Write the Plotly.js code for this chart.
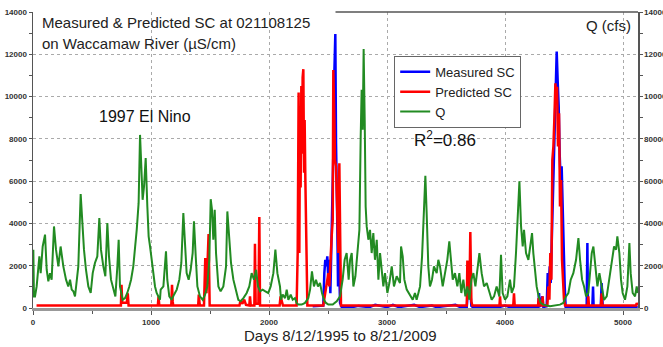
<!DOCTYPE html>
<html>
<head>
<meta charset="utf-8">
<script src="https://cdn.plot.ly/plotly-3.0.1.min.js"></script>
<style>html,body{margin:0;padding:0;background:#fff;}#chart{width:663px;height:347px;}</style>
</head>
<body>
<div id="chart"></div>
<script>
// Q (cfs), right axis
const qDay = [3,8,17,31,54,65,82,102,116,130,144,158,178,195,215,234,257,280,299,314,328,342,356,370,384,404,418,432,449,469,489,506,525,545,562,576,596,613,630,644,661,681,698,715,726,737,760,780,799,816,831,850,867,879,895,907,918,929,941,955,969,980,992,1006,1020,1034,1048,1076,
1082,1105,1127,1138,1155,1175,1195,1218,1240,1257,1274,1285,1302,1319,1336,1353,1364,1379,1393,1415,1438,1458,1477,1494,1506,1517,1528,1540,1551,1571,1590,1613,1636,1647,1661,1678,1698,1720,1740,1760,1783,1811,1833,1853,1873,1890,1907,1924,1946,1969,1994,2014,2037,2054,2071,2093,
2102,2116,2136,2150,2164,2184,2201,2220,2234,2249,2277,2305,2333,2348,2364,2381,2398,2415,2432,2449,2466,2483,2503,2540,2574,2602,2624,2641,2658,2675,2687,2701,2715,2732,2749,2766,2777,2785,2794,2802,2811,2819,2828,2842,2856,2870,2884,2898,2913,2927,2941,2955,2969,2983,3003,3020,3040,3059,3082,3110,
3119,3133,3147,3167,3184,3201,3218,3237,3251,3266,3280,3297,3314,3325,3336,3350,3364,3381,3398,3421,3435,3449,3472,3492,3511,3528,3542,3557,3576,3596,3613,3630,3647,3664,3681,3698,3715,3732,3749,3766,3783,3802,3822,3845,3867,3887,3907,3929,3952,3966,3980,4000,4020,
4042,4057,4076,4093,4105,4122,4136,4150,4161,4178,4198,4212,4229,4240,4254,4268,4285,4302,4325,4381,4466,4494,4517,4537,4557,4579,4602,4622,4636,4653,4670,4687,4706,4720,4735,4749,4763,4783,4800,4819,4839,4862,4884,4904,4924,4941,4952,4969,4983,4997,5017,5037,5054,5065,5082,5102,5116,5125];
const qCfs = [27600,5500,5500,10200,24400,16500,29100,34700,18100,12600,16500,13400,38600,27600,19700,29100,19700,13400,10200,13400,8700,7900,5500,11800,19700,53900,38600,27600,18100,10200,7100,16500,21300,24400,42500,27600,19700,15000,40200,24400,13400,8700,5500,19700,32300,10200,3900,4700,7100,10200,13400,19700,29100,37000,49600,81900,66900,51200,57500,70900,48000,33900,29100,22800,15000,10200,7100,3900,
8700,10200,26800,13400,5500,3900,6300,8700,13400,21300,44900,32300,16500,13400,18100,26000,41000,24400,10200,5500,3900,6300,10200,22800,51500,46500,32300,46500,26000,10200,7900,10200,19700,45700,32300,21300,13400,7900,3900,3200,4700,7100,10200,16500,13400,18100,10200,7900,8700,7900,7100,10200,16500,27600,16500,10200,
3900,6300,4700,8700,3900,6300,3900,4700,2400,1600,1600,2400,4700,8700,17300,10200,13400,10200,11800,7100,3900,2400,1600,1600,3200,5500,13400,22800,26000,13400,22800,26000,10200,15000,26000,37000,81100,103200,84300,122500,89000,48000,38600,32300,37000,26000,35400,22800,32300,13400,26000,16500,10200,16500,7100,11800,19700,10200,15000,11800,
29100,24400,13400,8700,7100,5500,3900,7100,3900,7100,10200,24400,51200,62500,44900,19700,10200,13400,19700,16500,22800,19700,10200,16500,22800,31500,22800,13400,16500,10200,16500,7100,13400,5500,10200,3900,13400,16500,10200,18100,26000,16500,10200,11800,7100,3900,5500,10200,5500,25200,7100,3900,5500,
13400,7100,10200,26000,41700,59900,38600,29100,37000,26000,22800,27600,35400,26000,16500,10200,5500,2400,1600,800,1600,2400,5500,7100,13400,16500,22800,33100,22800,13400,10200,5500,7100,16500,26000,29100,19700,10200,16500,10200,3900,5500,13400,22800,29100,27600,33900,26000,13400,7100,3900,10200,30700,16500,7100,5500,10200,7100];

// Measured SC (uS/cm), left axis
const measDay = [2370,2446,
2460,2469,2477,2486,2494,2503,2511,2520,2528,2537,2545,2551,2557,2562,2568,2574,2579,2585,2590,2596,2602,2616,
2700,2760,2850,2900,3000,3050,3100,3230,3280,3380,3420,3580,3620,
3676,3681,3692,3703,3715,3725,
3800,3950,4000,4040,4100,4200,
4280,4283,4288,4297,4316,4325,
4353,4362,4370,4379,4387,4396,4404,4413,4421,4429,4438,4446,4455,4463,4472,4480,4489,4497,4506,4514,
4692,4698,4703,4740,4746,4751,4811,4819,4828,4950,5125];
const measSC = [80,80,
110,1650,2280,1970,2440,1340,2280,700,2600,4800,7300,10470,12960,12960,7800,6220,3860,1020,2910,1650,240,50,
40,100,40,150,40,150,40,150,40,120,40,150,40,
50,400,1340,1020,100,50,
50,40,120,40,40,60,
50,50,710,50,550,50,
80,1650,1020,1970,1180,2910,5120,7170,8900,10470,12130,10790,9530,7320,5910,6700,4490,2600,1020,50,
50,3070,50,50,1020,50,50,1180,50,60,50];

// Predicted SC (uS/cm), left axis
const predDay = [30,745,750,756,795,803,810,1058,1064,1070,1172,1178,1184,1188,1400,1405,1412,1418,
1449,1460,1470,1488,1497,1750,1758,1775,1790,1805,1833,1839,1845,1876,1881,1887,1910,1918,1924,
2090,2098,2108,2118,
2234,2243,2251,2257,2263,2268,2274,2280,2285,2291,2297,2302,2308,2314,2319,2325,
2460,2475,2489,2503,2511,2523,2531,2540,2545,2554,2559,2568,2574,2582,2588,2596,2602,2610,
3676,3681,3689,3698,3706,3715,3723,3953,3958,3963,4070,4076,4082,4280,4285,4290,4314,4319,4324,
4359,4367,4376,4384,4393,4401,4410,4418,4427,4432,4441,4449,4458,4466,4475,4483,4492,4500,4509,
4701,4706,4711,4814,4819,4824,5111,5116,5121,5125];
const predSC = [120,120,1100,250,250,700,120,120,550,120,120,1100,300,120,120,630,200,120,
120,2360,700,3500,120,120,350,200,400,150,120,550,120,120,3040,200,200,4300,120,
120,550,300,120,
120,2600,10200,2600,9500,5700,10500,7300,10900,11300,6400,8900,6100,4200,2600,120,
120,700,1340,1650,1020,2760,3390,4170,11260,8900,7000,6700,5430,3860,2600,6850,1650,120,
120,2250,870,450,3590,300,120,120,550,120,120,700,120,120,470,120,120,550,120,
120,1020,390,2600,1340,7000,7640,8900,10630,9690,10470,7640,9210,4800,6060,2280,1180,390,120,
120,550,120,120,700,120,120,240,120,120];

const seriesNames = ['Measured SC','Predicted SC','Q'];
const leftTicks = [0,2000,4000,6000,8000,10000,12000,14000];
const rightTicks = [0,20000,40000,60000,80000,100000,120000,140000];
const xTicks = [0,1000,2000,3000,4000,5000];

const FONT = 'Liberation Sans, Arial, sans-serif';
const tickFont = {family: FONT, size: 8, color: '#333', weight: 'bold'};

const traces = [
  {x: qDay, y: qCfs, name: seriesNames[2], yaxis: 'y2', type: 'scatter', mode: 'lines',
   line: {color: '#228b22', width: 2}, legendrank: 3},
  {x: measDay, y: measSC, name: seriesNames[0], type: 'scatter', mode: 'lines',
   line: {color: '#0000ff', width: 2.5}, legendrank: 1},
  {x: predDay, y: predSC, name: seriesNames[1], type: 'scatter', mode: 'lines',
   line: {color: '#ff0000', width: 2.5}, legendrank: 2}
];

const layout = {
  width: 663, height: 347,
  margin: {l: 33, r: 25, t: 12, b: 39},
  paper_bgcolor: '#fff', plot_bgcolor: '#fff',
  showlegend: true,
  legend: {x: 0.597, y: 0.852, xanchor: 'left', yanchor: 'top', bgcolor: '#fff',
    bordercolor: '#666', borderwidth: 1, font: {family: FONT, size: 13, color: '#222'},
    itemwidth: 30, tracegroupgap: 0},
  xaxis: {range: [0, 5127], tickvals: xTicks, ticktext: xTicks.map(String),
    showgrid: true, gridcolor: '#aaa', griddash: 'dot', gridwidth: 1, zeroline: false,
    showline: true, linecolor: '#999', linewidth: 3, ticks: 'outside', ticklen: 4, tickcolor: '#555',
    minor: {dtick: 500, tick0: 0, ticks: 'outside', ticklen: 3, tickcolor: '#555', showgrid: false},
    tickfont: tickFont},
  yaxis: {range: [0, 14005], tickvals: leftTicks, ticktext: leftTicks.map(String),
    showgrid: true, gridcolor: '#aaa', griddash: 'dot', gridwidth: 1, zeroline: false,
    showline: true, linecolor: '#555', linewidth: 1.5, ticks: 'outside', ticklen: 3, tickcolor: '#555',
    minor: {dtick: 1000, tick0: 0, ticks: 'outside', ticklen: 3, tickcolor: '#555', showgrid: false},
    tickfont: tickFont},
  yaxis2: {range: [0, 140050], overlaying: 'y', side: 'right', tickvals: rightTicks, ticktext: rightTicks.map(String),
    showgrid: false, zeroline: false, showline: true, linecolor: '#555', linewidth: 1.5,
    ticks: 'outside', ticklen: 3, tickcolor: '#555',
    minor: {dtick: 10000, tick0: 0, ticks: 'outside', ticklen: 3, tickcolor: '#555', showgrid: false},
    tickfont: tickFont},
  shapes: [
    {type: 'line', xref: 'paper', yref: 'paper', x0: 0.5, x1: 1, y0: 1, y1: 1, line: {color: '#555', width: 1.5}}
  ],
  annotations: [
    {xref: 'paper', yref: 'paper', x: 0.0116, y: 0.966, xanchor: 'left', yanchor: 'middle', showarrow: false,
     text: 'Measured &amp; Predicted SC at 021108125', font: {family: FONT, size: 15, color: '#222'}},
    {xref: 'paper', yref: 'paper', x: 0.0116, y: 0.892, xanchor: 'left', yanchor: 'middle', showarrow: false,
     text: 'on Waccamaw River (µS/cm)', font: {family: FONT, size: 15, color: '#222'}},
    {xref: 'paper', yref: 'paper', x: 0.9917, y: 0.956, xanchor: 'right', yanchor: 'middle', showarrow: false,
     text: 'Q (cfs)', font: {family: FONT, size: 15, color: '#222'}},
    {xref: 'paper', yref: 'paper', x: 0.1058, y: 0.6456, xanchor: 'left', yanchor: 'middle', showarrow: false,
     text: '1997 El Nino', font: {family: FONT, size: 16, color: '#111'}},
    {xref: 'paper', yref: 'paper', x: 0.6264, y: 0.572, xanchor: 'left', yanchor: 'middle', showarrow: false,
     text: 'R<sup>2</sup>=0.86', font: {family: FONT, size: 17, color: '#111'}},
    {xref: 'paper', yref: 'paper', x: 0.508, y: -0.094, xanchor: 'center', yanchor: 'middle', showarrow: false,
     borderpad: 0, text: 'Days 8/12/1995 to 8/21/2009', font: {family: FONT, size: 15, color: '#222'}}
  ]
};

Plotly.newPlot('chart', traces, layout, {displayModeBar: false, staticPlot: true});
</script>
</body>
</html>
